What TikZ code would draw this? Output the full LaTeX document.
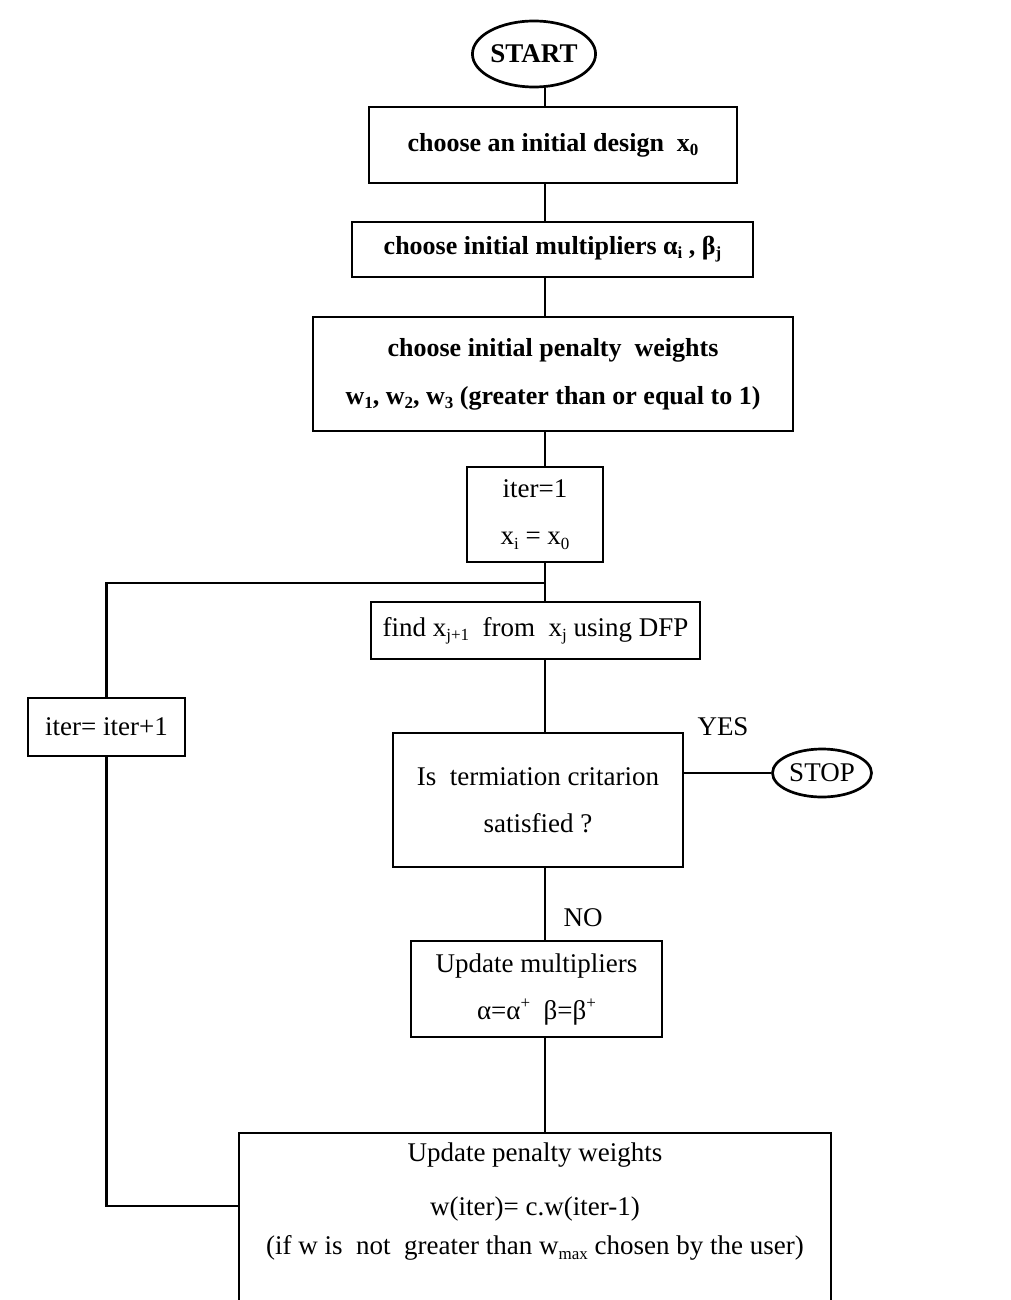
\documentclass[tikz,border=0pt]{standalone}
\usepackage{fontspec}
\setmainfont{Liberation Serif}
\usetikzlibrary{shapes.geometric,calc}
\newcommand\sbs[1]{\raisebox{-0.35ex}{\fontsize{17}{17}\selectfont #1}}
\newcommand\sps[1]{\raisebox{0.85ex}{\fontsize{17}{17}\selectfont #1}}
\begin{document}
\begin{tikzpicture}[x=1pt,y=-1pt, line width=2.7pt,
  box/.style={draw, rectangle, inner sep=0pt, align=center, font=\fontsize{27}{47}\selectfont},
  bbox/.style={box, font=\fontsize{26}{48}\selectfont\bfseries},
  term/.style={draw, ellipse, inner sep=0pt, font=\fontsize{27}{30}\selectfont\bfseries},
  lbl/.style={inner sep=0pt, align=center, font=\fontsize{27}{47}\selectfont}]
\fill[white] (0,0) rectangle (1010,1300);
\useasboundingbox (0,0) rectangle (1010,1300);

\node[term, minimum width=102pt, minimum height=66pt] (start) at (534,54) {START};
\node[bbox, minimum width=368pt, minimum height=76pt] (b1) at (553,145) {choose an initial design\ \ x\sbs{0}};
\node[bbox, minimum width=401pt, minimum height=55pt] (b2) at (552.5,249.5) {choose initial multipliers α\sbs{i} , β\sbs{j}};
\node[bbox, minimum width=480pt, minimum height=114pt] (b3) at (553,374) {choose initial penalty\ \ weights\\w\sbs{1}, w\sbs{2}, w\sbs{3} (greater than or equal to 1)};
\node[box, minimum width=136pt, minimum height=95pt] (b4) at (535,514.5) {iter=1\\x\sbs{i} = x\sbs{0}};
\node[box, minimum width=329pt, minimum height=57pt] (find) at (535.5,630.5) {find x\sbs{j+1}\ \ from\ \ x\sbs{j} using DFP};
\node[box, minimum width=157pt, minimum height=58pt] (iterp) at (106.5,727) {iter= iter+1};
\node[box, minimum width=290pt, minimum height=134pt] (dec) at (538,800) {Is\ \ termiation critarion\\satisfied ?};
\node[term, font=\fontsize{27}{30}\selectfont, minimum width=99pt, minimum height=48pt] (stop) at (822,773) {STOP};
\node[box, minimum width=251pt, minimum height=96pt] (upd) at (536.5,989) {Update multipliers\\α=α\sps{+}\ \ β=β\sps{+}};
\node[box, minimum width=592pt, minimum height=177pt] (last) at (535,1221.5) {};
\node[lbl] (lastt) at (535,1202) {Update penalty weights\\[7pt]w(iter)= c.w(iter-1)\\[-8pt](if w is\ \ not\ \ greater than w\sbs{max} chosen by the user)};

\node[lbl] (yes) at (723,727) {YES};
\node[lbl] (no) at (583,918) {NO};

\coordinate (spine) at (545,0);
\coordinate (jn) at (545,583);
\coordinate (lp) at (106.5,1206);
\draw (spine |- start.south) -- (spine |- b1.north);
\draw (spine |- b1.south) -- (spine |- b2.north);
\draw (spine |- b2.south) -- (spine |- b3.north);
\draw (spine |- b3.south) -- (spine |- b4.north);
\draw (spine |- b4.south) -- (spine |- find.north);
\draw (spine |- find.south) -- (spine |- dec.north);
\draw (spine |- dec.south) -- (spine |- upd.north);
\draw (spine |- upd.south) -- (spine |- last.north);
\draw (jn) -- (jn -| iterp.north) -- (iterp.north);
\draw (iterp.south) -- (lp) -- (lp -| last.west);
\draw (dec.east |- stop.west) -- (stop.west);
\end{tikzpicture}
\end{document}
